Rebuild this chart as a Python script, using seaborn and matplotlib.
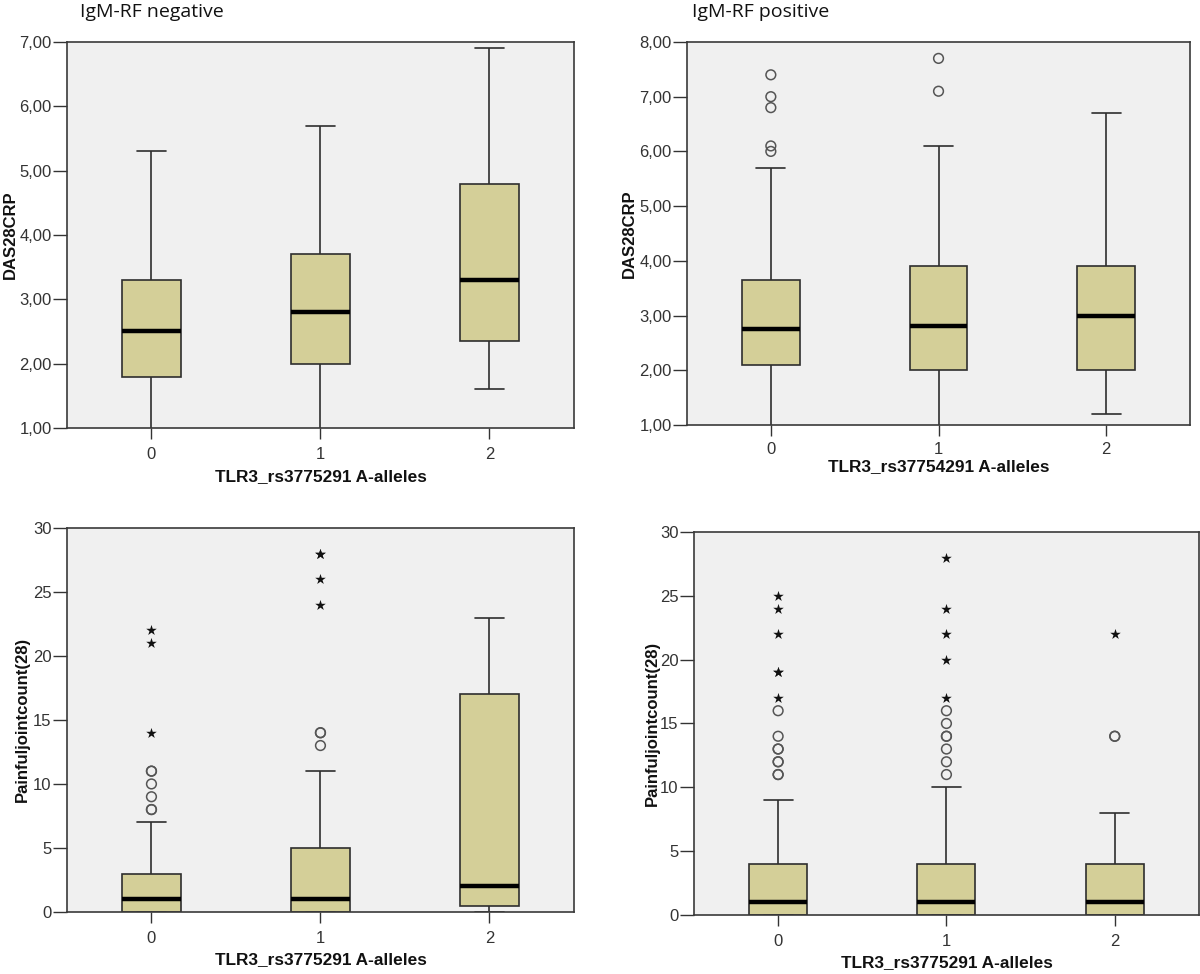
import matplotlib
matplotlib.use("Agg")
import matplotlib.pyplot as plt
import pandas as pd
import seaborn as sns

groups = ["0", "1", "2"]

# DAS28CRP, IgM-RF negative (five-number summary for each allele group)
das_neg_low = [0.9, 0.9, 1.6]
das_neg_q1 = [1.8, 2.0, 2.35]
das_neg_med = [2.5, 2.8, 3.3]
das_neg_q3 = [3.3, 3.7, 4.8]
das_neg_high = [5.3, 5.7, 6.9]

# DAS28CRP, IgM-RF positive
das_pos_low = [0.9, 0.9, 1.2]
das_pos_q1 = [2.1, 2.0, 2.0]
das_pos_med = [2.75, 2.8, 3.0]
das_pos_q3 = [3.65, 3.9, 3.9]
das_pos_high = [5.7, 6.1, 6.7]
das_pos_circ_grp = ["0", "0", "0", "0", "0", "1", "1"]
das_pos_circ_val = [6.0, 6.1, 6.8, 7.0, 7.4, 7.1, 7.7]

# Painful joint count, IgM-RF negative
pain_neg_low = [0, 0, 0]
pain_neg_q1 = [0, 0, 0.5]
pain_neg_med = [1, 1, 2]
pain_neg_q3 = [3, 5, 17]
pain_neg_high = [7, 11, 23]
pain_neg_circ_grp = ["0", "0", "0", "0", "0", "0", "1", "1", "1"]
pain_neg_circ_val = [8, 8, 9, 10, 11, 11, 13, 14, 14]
pain_neg_star_grp = ["0", "0", "0", "1", "1", "1", "1"]
pain_neg_star_val = [14, 21, 22, 24, 26, 28, 28]

# Painful joint count, IgM-RF positive
pain_pos_low = [0, 0, 0]
pain_pos_q1 = [0, 0, 0]
pain_pos_med = [1, 1, 1]
pain_pos_q3 = [4, 4, 4]
pain_pos_high = [9, 10, 8]
pain_pos_circ_grp = ["0"] * 8 + ["1"] * 7 + ["2"] * 2
pain_pos_circ_val = [11, 11, 12, 12, 13, 13, 14, 16,
                     11, 12, 13, 14, 14, 15, 16,
                     14, 14]
pain_pos_star_grp = ["0"] * 6 + ["1"] * 5 + ["2"]
pain_pos_star_val = [17, 19, 19, 22, 24, 25,
                     17, 20, 22, 24, 28,
                     22]

das_ticks = {"neg": [1, 2, 3, 4, 5, 6, 7], "pos": [1, 2, 3, 4, 5, 6, 7, 8]}
pain_ticks = [0, 5, 10, 15, 20, 25, 30]

BOX = "#D4CF98"
EDGE = "#2e2e2e"
BG = "#F0F0F0"

sns.set_theme(style="ticks")
plt.rcParams["font.family"] = ["Liberation Sans", "DejaVu Sans"]


def summary_frame(low, q1, med, q3, high):
    rows = []
    for g, *vals in zip(groups, low, q1, med, q3, high):
        rows += [(g, v) for v in vals]
    return pd.DataFrame(rows, columns=["group", "value"])


def draw_panel(ax, box_df, circ, stars, ylim, yticks, ylabels, ylabel, xlabel,
               ylab_x, xlab_y, xpad=5.5):
    ax.set_facecolor(BG)
    sns.boxplot(data=box_df, x="group", y="value", order=groups, ax=ax,
                width=0.345, color=BOX, linecolor=EDGE, linewidth=1.2,
                whis=(0, 100), fliersize=0, saturation=1,
                medianprops=dict(color="black", linewidth=3.2))
    if circ is not None:
        sns.stripplot(x=circ[0], y=circ[1], order=groups, ax=ax, jitter=False,
                      marker="o", size=7, color="#555555", facecolor="none",
                      edgecolor="#555555", linewidth=1.1)
    if stars is not None:
        sns.stripplot(x=stars[0], y=stars[1], order=groups, ax=ax, jitter=False,
                      marker="*", size=8, color="#111111", edgecolor="#111111",
                      linewidth=0)
    ax.set_xlim(-0.5, 2.5)
    ax.set_ylim(*ylim)
    ax.set_yticks(yticks)
    ax.set_yticklabels(ylabels)
    for s in ax.spines.values():
        s.set_visible(True)
        s.set_color("#3a3a3a")
        s.set_linewidth(1.2)
    ax.tick_params(axis="y", length=10, width=1, pad=1, labelsize=12,
                   colors="#333333")
    ax.tick_params(axis="x", length=8, width=1, pad=xpad, labelsize=12,
                   colors="#333333")
    ax.set_ylabel(ylabel, fontsize=12, fontweight="bold", color="#111111",
                  va="center")
    ax.set_xlabel(xlabel, fontsize=12.4, fontweight="bold", color="#111111",
                  va="center")
    ax.yaxis.set_label_coords(ylab_x, 0.5)
    ax.xaxis.set_label_coords(0.5, xlab_y)


fig = plt.figure(figsize=(12, 9.74), dpi=100)
ax_tl = fig.add_axes([0.0558, 0.5606, 0.4225, 0.3963])
ax_tr = fig.add_axes([0.5725, 0.5637, 0.4192, 0.3932])
ax_bl = fig.add_axes([0.0558, 0.0637, 0.4225, 0.3943])
ax_br = fig.add_axes([0.5783, 0.0606, 0.4208, 0.3932])

comma = lambda ts: [f"{t:.2f}".replace(".", ",") for t in ts]

draw_panel(ax_tl,
           summary_frame(das_neg_low, das_neg_q1, das_neg_med, das_neg_q3, das_neg_high),
           None, None, (1, 7), das_ticks["neg"], comma(das_ticks["neg"]),
           "DAS28CRP", "TLR3_rs3775291 A-alleles", -0.112, -0.125)
draw_panel(ax_tr,
           summary_frame(das_pos_low, das_pos_q1, das_pos_med, das_pos_q3, das_pos_high),
           (das_pos_circ_grp, das_pos_circ_val), None, (1, 8),
           das_ticks["pos"], comma(das_ticks["pos"]),
           "DAS28CRP", "TLR3_rs37754291 A-alleles", -0.115, -0.109, xpad=4)
draw_panel(ax_bl,
           summary_frame(pain_neg_low, pain_neg_q1, pain_neg_med, pain_neg_q3, pain_neg_high),
           (pain_neg_circ_grp, pain_neg_circ_val),
           (pain_neg_star_grp, pain_neg_star_val), (0, 30),
           pain_ticks, [str(t) for t in pain_ticks],
           "Painfuljointcount(28)", "TLR3_rs3775291 A-alleles", -0.087, -0.124)
draw_panel(ax_br,
           summary_frame(pain_pos_low, pain_pos_q1, pain_pos_med, pain_pos_q3, pain_pos_high),
           (pain_pos_circ_grp, pain_pos_circ_val),
           (pain_pos_star_grp, pain_pos_star_val), (0, 30),
           pain_ticks, [str(t) for t in pain_ticks],
           "Painfuljointcount(28)", "TLR3_rs3775291 A-alleles", -0.083, -0.124)

fig.text(80 / 1200, 1 - 17 / 974, "IgM-RF negative", fontsize=14,
         family=["Open Sans", "DejaVu Sans"], va="baseline", color="#111111")
fig.text(692 / 1200, 1 - 17 / 974, "IgM-RF positive", fontsize=14,
         family=["Open Sans", "DejaVu Sans"], va="baseline", color="#111111")

fig.savefig("out.png", dpi=100, facecolor="white")
